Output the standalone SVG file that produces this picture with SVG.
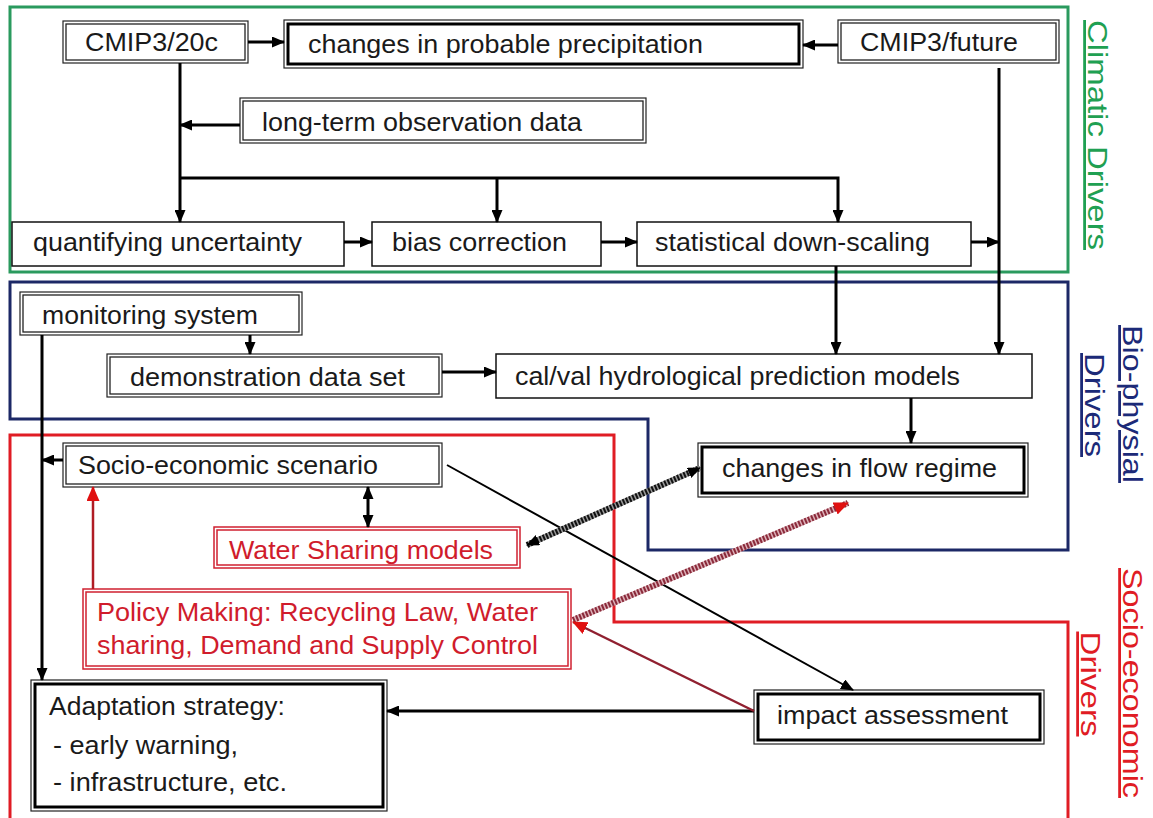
<svg xmlns="http://www.w3.org/2000/svg" width="1153" height="818" viewBox="0 0 1153 818">
<style>
text{font-family:"Liberation Sans",Arial,sans-serif;font-size:26px;fill:#1a1a1a}
.red{fill:#d01c2c}
.lbl{font-size:28px;text-decoration:underline}
.b1{fill:#fff;stroke:#111;stroke-width:1.5}
.bo{fill:#fff;stroke:#222;stroke-width:1.2}
.bt{fill:none;stroke:#000;stroke-width:3}
.bi{fill:none;stroke:#222;stroke-width:1.3}
.ro{fill:#fff;stroke:#d02030;stroke-width:1.5}
.ri{fill:none;stroke:#d02030;stroke-width:1.5}
.c{fill:none;stroke:#000;stroke-width:3}
</style>
<defs>
<marker id="ah" markerWidth="13" markerHeight="11" refX="12" refY="5.5" orient="auto-start-reverse" markerUnits="userSpaceOnUse"><path d="M0,0 L13,5.5 L0,11 z" fill="#000"/></marker>
<marker id="ahr" markerWidth="15" markerHeight="13" refX="14" refY="6.5" orient="auto-start-reverse" markerUnits="userSpaceOnUse"><path d="M0,0 L15,6.5 L0,13 z" fill="#e01010"/></marker>
</defs>
<rect width="1153" height="818" fill="#fff"/>
<g id="regions">
<rect x="10" y="7" width="1058" height="265" fill="none" stroke="#2a9a5e" stroke-width="3"/>
<path d="M10,282 H1068 V550 H648 V419 H10 Z" fill="none" stroke="#1c2866" stroke-width="3"/>
<path d="M10,822 V435 H614 V622 H1068 V822" fill="none" stroke="#e01c24" stroke-width="3"/>
<text class="lbl" transform="translate(1088,135) rotate(90)" text-anchor="middle" textLength="230" lengthAdjust="spacingAndGlyphs" style="fill:#1fa052">Climatic Drivers</text>
<text class="lbl" transform="translate(1123,404) rotate(90)" text-anchor="middle" textLength="158" lengthAdjust="spacingAndGlyphs" style="fill:#1c2a78">Bio-physial</text>
<text class="lbl" transform="translate(1085,405) rotate(90)" text-anchor="middle" textLength="104" lengthAdjust="spacingAndGlyphs" style="fill:#1c2a78">Drivers</text>
<text class="lbl" transform="translate(1123,683) rotate(90)" text-anchor="middle" textLength="230" lengthAdjust="spacingAndGlyphs" style="fill:#e01c24">Socio-economic</text>
<text class="lbl" transform="translate(1081,684) rotate(90)" text-anchor="middle" textLength="105" lengthAdjust="spacingAndGlyphs" style="fill:#e01c24">Drivers</text>
</g>
<g id="n-cmip20c"><rect class="bo" x="63" y="21" width="185" height="42"/><rect class="bi" x="66" y="24" width="179" height="36"/><text x="85" y="51" textLength="133" lengthAdjust="spacingAndGlyphs">CMIP3/20c</text></g>
<g id="n-precip"><rect class="bo" x="284" y="20" width="519" height="48"/><rect class="bt" x="288" y="24" width="511" height="40"/><text x="308" y="53" textLength="395" lengthAdjust="spacingAndGlyphs">changes in probable precipitation</text></g>
<g id="n-cmipfut"><rect class="bo" x="838" y="20" width="221" height="43"/><rect class="bi" x="841" y="23" width="215" height="37"/><text x="860" y="51" textLength="158" lengthAdjust="spacingAndGlyphs">CMIP3/future</text></g>
<g id="n-obs"><rect class="bo" x="240" y="98" width="406" height="45"/><rect class="bi" x="243" y="101" width="400" height="39"/><text x="262" y="131" textLength="320" lengthAdjust="spacingAndGlyphs">long-term observation data</text></g>
<g id="n-quant"><rect class="b1" x="12" y="222" width="332" height="44"/><text x="33" y="251" textLength="269" lengthAdjust="spacingAndGlyphs">quantifying uncertainty</text></g>
<g id="n-bias"><rect class="b1" x="372" y="222" width="229" height="44"/><text x="392" y="251" textLength="175" lengthAdjust="spacingAndGlyphs">bias correction</text></g>
<g id="n-stat"><rect class="b1" x="637" y="222" width="334" height="44"/><text x="655" y="251" textLength="275" lengthAdjust="spacingAndGlyphs">statistical down-scaling</text></g>
<g id="n-monitor"><rect class="bo" x="20" y="292" width="282" height="43"/><rect class="bi" x="23" y="295" width="276" height="37"/><text x="42" y="324" textLength="216" lengthAdjust="spacingAndGlyphs">monitoring system</text></g>
<g id="n-demo"><rect class="bo" x="107" y="354" width="335" height="43"/><rect class="bi" x="110" y="357" width="329" height="37"/><text x="130" y="386" textLength="275" lengthAdjust="spacingAndGlyphs">demonstration data set</text></g>
<g id="n-calval"><rect class="b1" x="496" y="354" width="536" height="44"/><text x="515" y="385" textLength="445" lengthAdjust="spacingAndGlyphs">cal/val hydrological prediction models</text></g>
<g id="n-flow"><rect class="bo" x="698" y="443" width="330" height="54"/><rect class="bt" x="702" y="447" width="322" height="46"/><text x="722" y="477" textLength="275" lengthAdjust="spacingAndGlyphs">changes in flow regime</text></g>
<g id="n-socio"><rect class="bo" x="63" y="443" width="379" height="44"/><rect class="bi" x="66" y="446" width="373" height="38"/><text x="78" y="474" textLength="300" lengthAdjust="spacingAndGlyphs">Socio-economic scenario</text></g>
<g id="n-water"><rect class="ro" x="214" y="527" width="306" height="41"/><rect class="ri" x="217" y="530" width="300" height="35"/><text class="red" x="229" y="559" textLength="264" lengthAdjust="spacingAndGlyphs">Water Sharing models</text></g>
<g id="n-policy"><rect class="ro" x="83" y="589" width="488" height="80"/><rect class="ri" x="86" y="592" width="482" height="74"/><text class="red" x="97" y="621" textLength="441" lengthAdjust="spacingAndGlyphs">Policy Making: Recycling Law, Water</text><text class="red" x="97" y="654" textLength="441" lengthAdjust="spacingAndGlyphs">sharing, Demand and Supply Control</text></g>
<g id="n-adapt"><rect class="bo" x="31" y="680" width="356" height="131"/><rect class="bt" x="35" y="684" width="348" height="123"/><text x="49" y="715" textLength="236" lengthAdjust="spacingAndGlyphs">Adaptation strategy:</text><text x="53" y="754" textLength="185" lengthAdjust="spacingAndGlyphs">- early warning,</text><text x="53" y="791" textLength="234" lengthAdjust="spacingAndGlyphs">- infrastructure, etc.</text></g>
<g id="n-impact"><rect class="bo" x="754" y="690" width="290" height="54"/><rect class="bt" x="758" y="694" width="282" height="46"/><text x="777" y="724" textLength="231" lengthAdjust="spacingAndGlyphs">impact assessment</text></g>
<g id="connectors">
<path class="c" d="M248,42 H284" marker-end="url(#ah)"/>
<path class="c" d="M838,45 H803" marker-end="url(#ah)"/>
<path class="c" d="M180,63 V222" marker-end="url(#ah)"/>
<path class="c" d="M240,125 H180" marker-end="url(#ah)"/>
<path class="c" d="M180,178 H838 V222" marker-end="url(#ah)"/>
<path class="c" d="M497,178 V222" marker-end="url(#ah)"/>
<path class="c" d="M344,242 H372" marker-end="url(#ah)"/>
<path class="c" d="M601,242 H637" marker-end="url(#ah)"/>
<path class="c" d="M971,242 H999" marker-end="url(#ah)"/>
<path class="c" d="M999,68 V354" marker-end="url(#ah)"/>
<path class="c" d="M836,266 V354" marker-end="url(#ah)"/>
<path class="c" d="M250,335 V354" marker-end="url(#ah)"/>
<path class="c" d="M442,372 H496" marker-end="url(#ah)"/>
<path class="c" d="M911,398 V443" marker-end="url(#ah)"/>
<path class="c" d="M42,335 V680" marker-end="url(#ah)"/>
<path class="c" d="M63,460 H42" marker-end="url(#ah)"/>
<path d="M93,589 V487" fill="none" stroke="#b01c24" stroke-width="2.5" marker-end="url(#ahr)"/>
<path class="c" d="M368,487 V527" marker-start="url(#ah)" marker-end="url(#ah)"/>
<path d="M447,465 L853,690" fill="none" stroke="#000" stroke-width="2" marker-end="url(#ah)"/>
<path d="M527,545 L700,468" fill="none" stroke="#999" stroke-width="6"/>
<path d="M527,545 L700,468" fill="none" stroke="#111" stroke-width="6" stroke-dasharray="2 1.5" marker-start="url(#ah)" marker-end="url(#ah)"/>
<path d="M573,620 L848,503" fill="none" stroke="#dcb0b8" stroke-width="6"/>
<path d="M573,620 L848,503" fill="none" stroke="#8a2a3a" stroke-width="6" stroke-dasharray="2 1.5" marker-end="url(#ahr)"/>
<path class="c" d="M754,711 H387" marker-end="url(#ah)"/>
<path d="M754,711 L573,622" fill="none" stroke="#902030" stroke-width="2.5" marker-end="url(#ahr)"/>
</g>
</svg>
